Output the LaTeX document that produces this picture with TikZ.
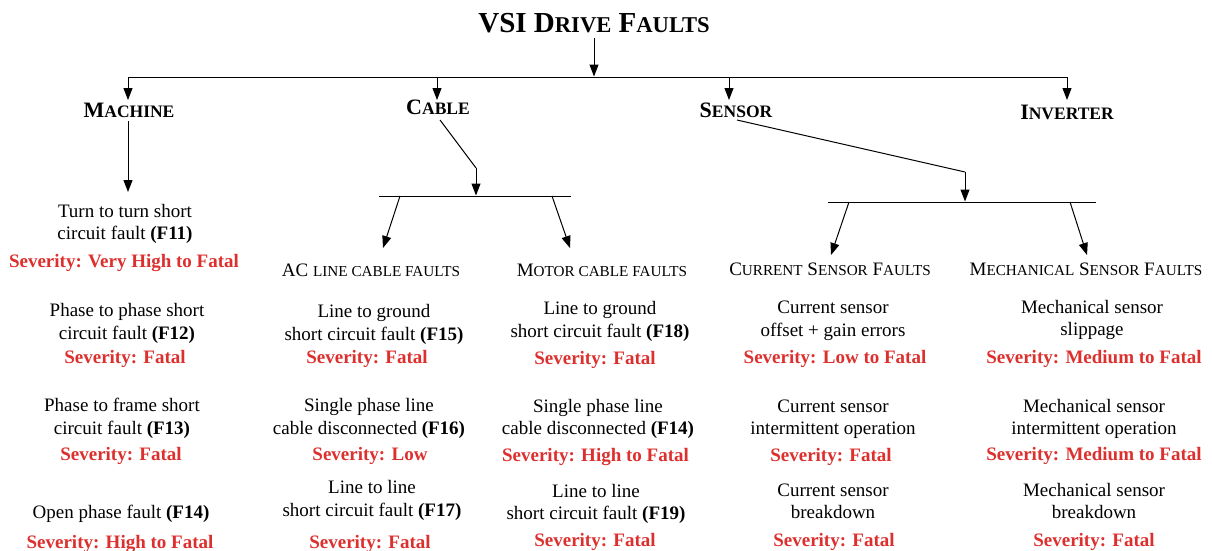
\documentclass[tikz,border=0pt]{standalone}
\usepackage{fontspec}
\setmainfont{Liberation Serif}
\usetikzlibrary{arrows.meta}
\definecolor{sevred}{RGB}{220,48,46}
\newcommand\smc[2]{{\fontsize{#1}{#1}\selectfont #2}}
\tikzset{
  every node/.style={inner sep=0pt, outer sep=0pt, anchor=base},
  txt/.style={font=\fontsize{19}{22}\selectfont},
  sev/.style={font=\fontsize{19}{22}\selectfont\bfseries, text=sevred},
  cat/.style={font=\fontsize{22}{24}\selectfont\bfseries},
  sub/.style={font=\fontsize{19}{22}\selectfont},
  ttl/.style={font=\fontsize{29}{32}\selectfont\bfseries},
  conn/.style={line width=1pt, black},
  arr/.style={conn, -{Triangle[length=12pt, width=9pt]}},
}
\begin{document}
\begin{tikzpicture}[x=1pt, y=-1pt]
\useasboundingbox (0,0) rectangle (1212,550);

% title and top categories
\node[ttl] (T) at (594,32) {VSI D\smc{22.6}{RIVE} F\smc{22.6}{AULTS}};
\node[cat] (M) at (129,117) {M\smc{17.5}{ACHINE}};
\node[cat] (C) at (438,114) {C\smc{17.5}{ABLE}};
\node[cat] (S) at (736,117) {S\smc{17.5}{ENSOR}};
\node[cat] (I) at (1067,119) {I\smc{17.5}{NVERTER}};

% sub categories
\node[sub] (AC) at (371,276) {AC \smc{15.2}{LINE CABLE FAULTS}};
\node[sub] (MC) at (602,276) {M\smc{15.2}{OTOR CABLE FAULTS}};
\node[sub] (CS) at (830,275) {C\smc{15.2}{URRENT} S\smc{15.2}{ENSOR} F\smc{15.2}{AULTS}};
\node[sub] (MS) at (1086,275) {M\smc{15.2}{ECHANICAL} S\smc{15.2}{ENSOR} F\smc{15.2}{AULTS}};

% junction coordinates
\coordinate (tA) at (594,38);
\coordinate (tB) at (594,76.5);
\coordinate (busL) at (128,77);
\coordinate (busR) at (1067,77);
\coordinate (bM) at (128,100);
\coordinate (bC) at (437,100);
\coordinate (bS) at (729,100);
\coordinate (bI) at (1067,100);
\coordinate (mA) at (128,121);
\coordinate (mB) at (128,192);
\coordinate (cA) at (440,120);
\coordinate (cK) at (476,168);
\coordinate (cT) at (476,195.5);
\coordinate (cbL) at (379,196);
\coordinate (cbR) at (571,196);
\coordinate (cL0) at (400,196);
\coordinate (cL1) at (383,248);
\coordinate (cR0) at (552,196);
\coordinate (cR1) at (570,248);
\coordinate (sA) at (737,120);
\coordinate (sK) at (965,172);
\coordinate (sT) at (965,201.5);
\coordinate (sbL) at (828,202);
\coordinate (sbR) at (1096,202);
\coordinate (sL0) at (849,202);
\coordinate (sL1) at (831,255);
\coordinate (sR0) at (1070,202);
\coordinate (sR1) at (1087,255);

% connectors
\draw[arr] (tA) -- (tB);
\draw[conn] (busL) -- (busR);
\draw[arr] (busL) -- (bM);
\draw[arr] (bC |- busL) -- (bC);
\draw[arr] (bS |- busL) -- (bS);
\draw[arr] (busR) -- (bI);
\draw[arr] (mA) -- (mB);
\draw[conn] (cA) -- (cK);
\draw[arr] (cK) -- (cT);
\draw[conn] (cbL) -- (cbR);
\draw[arr] (cL0) -- (cL1);
\draw[arr] (cR0) -- (cR1);
\draw[conn] (sA) -- (sK);
\draw[arr] (sK) -- (sT);
\draw[conn] (sbL) -- (sbR);
\draw[arr] (sL0) -- (sL1);
\draw[arr] (sR0) -- (sR1);

% Machine column
\node[txt] (m1a) at (125,217) {Turn to turn short};
\node[txt] (m1b) at (125,239) {circuit fault \textbf{(F11)}};
\node[sev] (m1s) at (124,267) {Severity: Very High to Fatal};
\node[txt] (m2a) at (127,316) {Phase to phase short};
\node[txt] (m2b) at (127,339) {circuit fault \textbf{(F12)}};
\node[sev] (m2s) at (125,363) {Severity: Fatal};
\node[txt] (m3a) at (122,411) {Phase to frame short};
\node[txt] (m3b) at (122,434) {circuit fault \textbf{(F13)}};
\node[sev] (m3s) at (121,460) {Severity: Fatal};
\node[txt] (m4a) at (121,518) {Open phase fault \textbf{(F14)}};
\node[sev] (m4s) at (120,548) {Severity: High to Fatal};

% AC line column
\node[txt] (a1a) at (374,317) {Line to ground};
\node[txt] (a1b) at (374,340) {short circuit fault \textbf{(F15)}};
\node[sev] (a1s) at (367,363) {Severity: Fatal};
\node[txt] (a2a) at (369,411) {Single phase line};
\node[txt] (a2b) at (369,434) {cable disconnected \textbf{(F16)}};
\node[sev] (a2s) at (370,460) {Severity: Low};
\node[txt] (a3a) at (372,493) {Line to line};
\node[txt] (a3b) at (372,516) {short circuit fault \textbf{(F17)}};
\node[sev] (a3s) at (370,548) {Severity: Fatal};

% Motor cable column
\node[txt] (b1a) at (600,314) {Line to ground};
\node[txt] (b1b) at (600,337) {short circuit fault \textbf{(F18)}};
\node[sev] (b1s) at (595,364) {Severity: Fatal};
\node[txt] (b2a) at (598,412) {Single phase line};
\node[txt] (b2b) at (598,434) {cable disconnected \textbf{(F14)}};
\node[sev] (b2s) at (595.5,461) {Severity: High to Fatal};
\node[txt] (b3a) at (596,497) {Line to line};
\node[txt] (b3b) at (596,519) {short circuit fault \textbf{(F19)}};
\node[sev] (b3s) at (595,546) {Severity: Fatal};

% Current sensor column
\node[txt] (c1a) at (833,313) {Current sensor};
\node[txt] (c1b) at (833,336) {offset + gain errors};
\node[sev] (c1s) at (835,363) {Severity: Low to Fatal};
\node[txt] (c2a) at (833,412) {Current sensor};
\node[txt] (c2b) at (833,434) {intermittent operation};
\node[sev] (c2s) at (831,461) {Severity: Fatal};
\node[txt] (c3a) at (833,496) {Current sensor};
\node[txt] (c3b) at (833,518) {breakdown};
\node[sev] (c3s) at (834,546) {Severity: Fatal};

% Mechanical sensor column
\node[txt] (d1a) at (1092,313) {Mechanical sensor};
\node[txt] (d1b) at (1092,335) {slippage};
\node[sev] (d1s) at (1094,363) {Severity: Medium to Fatal};
\node[txt] (d2a) at (1094,412) {Mechanical sensor};
\node[txt] (d2b) at (1094,434) {intermittent operation};
\node[sev] (d2s) at (1094,460) {Severity: Medium to Fatal};
\node[txt] (d3a) at (1094,496) {Mechanical sensor};
\node[txt] (d3b) at (1094,518) {breakdown};
\node[sev] (d3s) at (1094,546) {Severity: Fatal};
\end{tikzpicture}
\end{document}
